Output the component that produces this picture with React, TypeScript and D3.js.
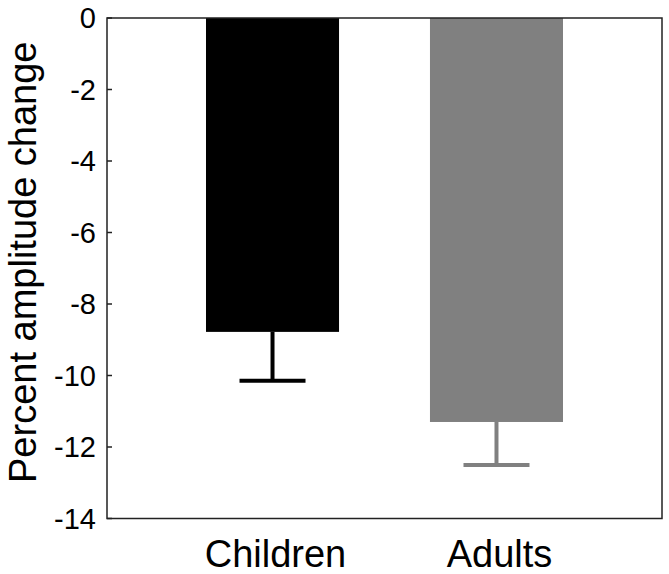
import React from "react";
import * as d3 from "d3";

const groups = ["Children", "Adults"];
const means = [-8.78, -11.3];
const errors = [-10.15, -12.5];
const barColors = ["#000000", "#808080"];
const yTicks = [0, -2, -4, -6, -8, -10, -12, -14];

const width = 669;
const height = 574;
const margin = { top: 18, right: 7, bottom: 55.5, left: 107 };

const App = () => {
  const x = d3
    .scaleBand<string>()
    .domain(groups)
    .range([margin.left, width - margin.right])
    .paddingInner(0.406)
    .paddingOuter(0.442);
  const y = d3
    .scaleLinear()
    .domain([0, -14])
    .range([margin.top, height - margin.bottom]);

  const font = "'Liberation Sans', Arial, sans-serif";
  const x0 = margin.left;
  const x1 = width - margin.right;
  const y0 = y(0);
  const y1 = y(-14);
  const capHalf = 33;

  return (
    <svg
      width={width}
      height={height}
      style={{ position: "absolute", left: 0, top: 0, background: "#fff" }}
    >
      {groups.map((g, i) => {
        const bx = x(g) as number;
        const cx = bx + x.bandwidth() / 2;
        return (
          <g key={g}>
            <rect
              x={bx}
              y={y(0)}
              width={x.bandwidth()}
              height={y(means[i]) - y(0)}
              fill={barColors[i]}
            />
            <line
              x1={cx}
              x2={cx}
              y1={y(means[i])}
              y2={y(errors[i])}
              stroke={barColors[i]}
              strokeWidth={4}
            />
            <line
              x1={cx - capHalf}
              x2={cx + capHalf}
              y1={y(errors[i])}
              y2={y(errors[i])}
              stroke={barColors[i]}
              strokeWidth={4}
            />
            <text
              x={cx + 3}
              y={567}
              textAnchor="middle"
              fontFamily={font}
              fontSize={38}
              fill="#000"
            >
              {g}
            </text>
          </g>
        );
      })}

      {/* axes box */}
      <rect
        x={x0}
        y={y0}
        width={x1 - x0}
        height={y1 - y0}
        fill="none"
        stroke="#222"
        strokeWidth={1.5}
      />

      {yTicks.map((t) => (
        <g key={t}>
          <line x1={x0} x2={x0 + 5} y1={y(t)} y2={y(t)} stroke="#222" strokeWidth={1.5} />
          <text
            x={x0 - 11}
            y={y(t)}
            dy="0.36em"
            textAnchor="end"
            fontFamily={font}
            fontSize={29}
            fill="#000"
          >
            {t === 0 ? "0" : `-${Math.abs(t)}`}
          </text>
        </g>
      ))}

      <text
        transform={`translate(36,${(y0 + y1) / 2 - 6}) rotate(-90)`}
        textAnchor="middle"
        fontFamily={font}
        fontSize={38}
        fill="#000"
      >
        Percent amplitude change
      </text>
    </svg>
  );
};

export default App;
